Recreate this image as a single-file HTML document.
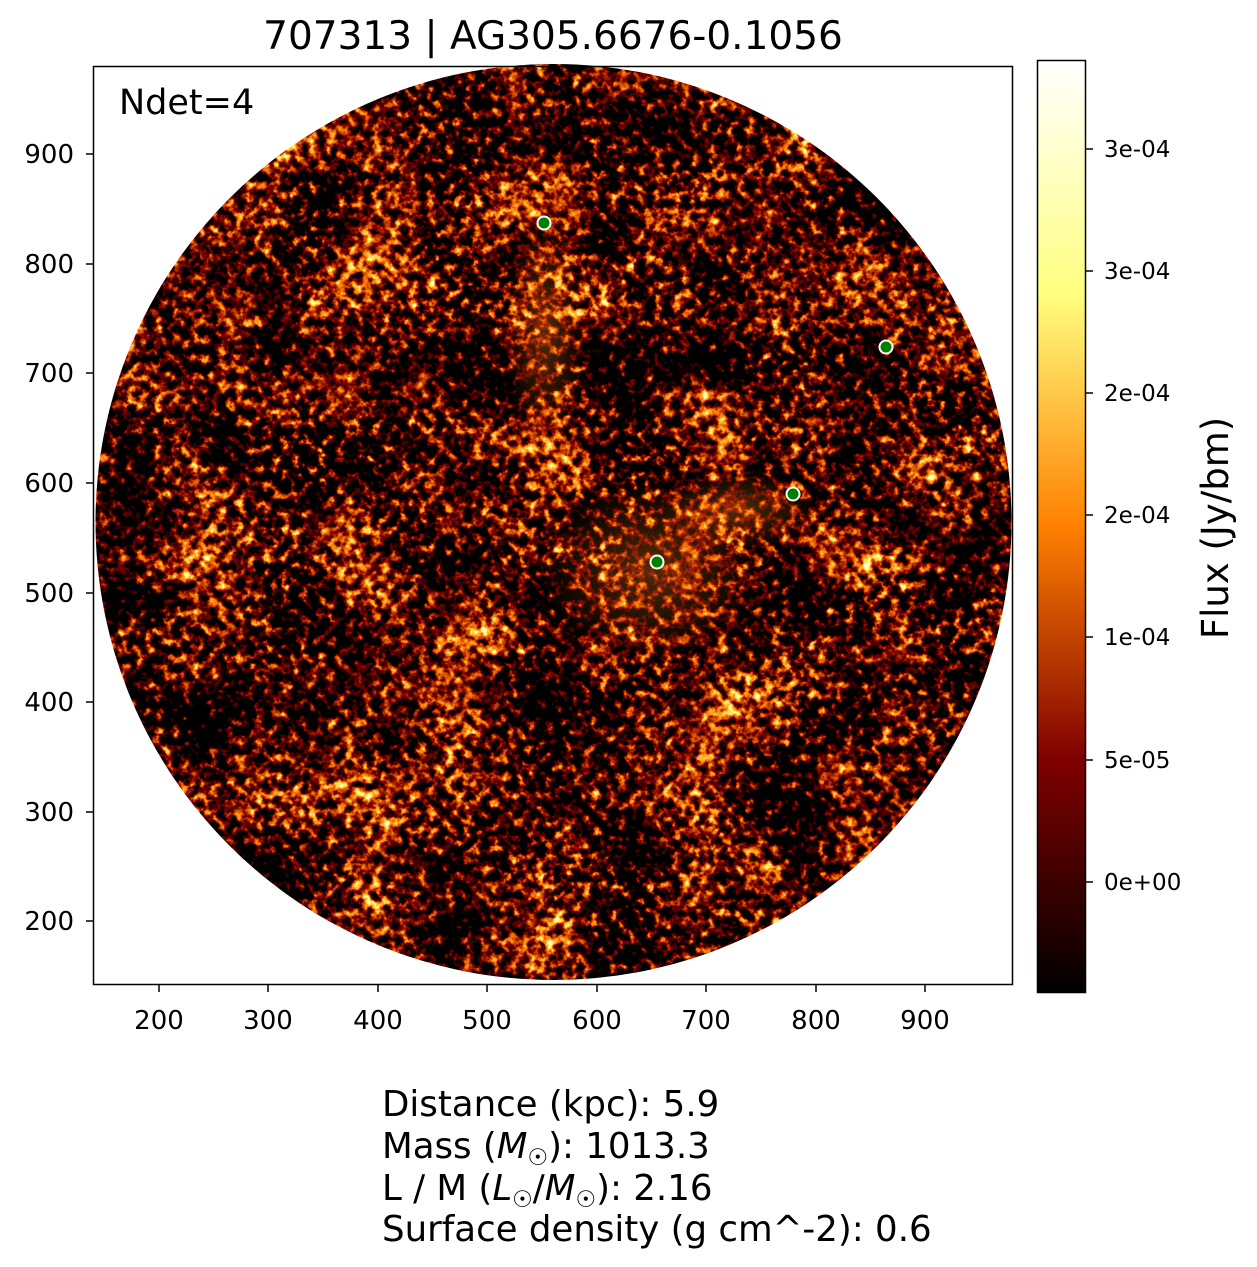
<!DOCTYPE html>
<html><head><meta charset="utf-8"><style>
html,body{margin:0;padding:0;background:#fff;}
svg{display:block;font-family:"DejaVu Sans","Liberation Sans",sans-serif;}
</style></head><body>
<svg width="1257" height="1267" viewBox="0 0 1257 1267" xmlns="http://www.w3.org/2000/svg">
<defs>
<filter id="noise" x="0" y="0" width="100%" height="100%" color-interpolation-filters="sRGB">
<feTurbulence type="fractalNoise" baseFrequency="0.11" numOctaves="3" seed="7" result="t1"/>
<feTurbulence type="fractalNoise" baseFrequency="0.012" numOctaves="2" seed="3" result="t2"/>
<feComposite in="t1" in2="t2" operator="arithmetic" k1="0" k2="0.65" k3="0.35" k4="0" result="m"/>
<feColorMatrix in="m" type="matrix" values="2.5 0 0 0 -1.12  2.5 0 0 0 -1.12  2.5 0 0 0 -1.12  0 0 0 0 1" result="x"/>
<feComponentTransfer in="x">
<feFuncR type="linear" slope="2" intercept="0"/>
<feFuncG type="linear" slope="2" intercept="-0.5"/>
<feFuncB type="linear" slope="2" intercept="-1"/>
<feFuncA type="linear" slope="0" intercept="1"/>
</feComponentTransfer>
</filter>
<clipPath id="circ"><circle cx="553.5" cy="522" r="458"/></clipPath>
<linearGradient id="cb" x1="0" y1="1" x2="0" y2="0">
<stop offset="0" stop-color="#000"/>
<stop offset="0.25" stop-color="#800000"/>
<stop offset="0.5" stop-color="#ff8000"/>
<stop offset="0.75" stop-color="#ffff80"/>
<stop offset="1" stop-color="#fff"/>
</linearGradient>
<radialGradient id="glow"><stop offset="0" stop-color="#ff9020" stop-opacity="0.3"/><stop offset="1" stop-color="#ff8000" stop-opacity="0"/></radialGradient>
</defs>
<text x="553" y="49" font-size="39" text-anchor="middle">707313 | AG305.6676-0.1056</text>
<g clip-path="url(#circ)">
<rect x="90" y="60" width="930" height="930" filter="url(#noise)"/>
<ellipse cx="650" cy="570" rx="110" ry="90" fill="url(#glow)"/>
<ellipse cx="740" cy="510" rx="80" ry="40" fill="url(#glow)"/>
<ellipse cx="545" cy="330" rx="40" ry="120" fill="url(#glow)"/>
</g>
<rect x="93.5" y="66.5" width="919" height="918" fill="none" stroke="#000" stroke-width="1.5"/>
<text x="119" y="114" font-size="35">Ndet=4</text>
<g fill="#008000" stroke="#fff" stroke-width="2">
<circle cx="544" cy="223" r="6.5"/><circle cx="886" cy="347" r="6.5"/><circle cx="793" cy="494" r="6.5"/><circle cx="657" cy="562" r="6.5"/>
</g>
<g stroke="#000" stroke-width="1.5">
<line x1="159" y1="985" x2="159" y2="992"/><line x1="268" y1="985" x2="268" y2="992"/><line x1="378" y1="985" x2="378" y2="992"/><line x1="487" y1="985" x2="487" y2="992"/><line x1="597" y1="985" x2="597" y2="992"/><line x1="706" y1="985" x2="706" y2="992"/><line x1="816" y1="985" x2="816" y2="992"/><line x1="925" y1="985" x2="925" y2="992"/>
<line x1="86" y1="154" x2="93" y2="154"/><line x1="86" y1="264" x2="93" y2="264"/><line x1="86" y1="373" x2="93" y2="373"/><line x1="86" y1="483" x2="93" y2="483"/><line x1="86" y1="593" x2="93" y2="593"/><line x1="86" y1="702" x2="93" y2="702"/><line x1="86" y1="812" x2="93" y2="812"/><line x1="86" y1="921" x2="93" y2="921"/>
</g>
<g font-size="26" text-anchor="middle">
<text x="159" y="1029">200</text><text x="268" y="1029">300</text><text x="378" y="1029">400</text><text x="487" y="1029">500</text><text x="597" y="1029">600</text><text x="706" y="1029">700</text><text x="816" y="1029">800</text><text x="925" y="1029">900</text>
</g>
<g font-size="26" text-anchor="end">
<text x="74" y="163">900</text><text x="74" y="273">800</text><text x="74" y="382">700</text><text x="74" y="492">600</text><text x="74" y="602">500</text><text x="74" y="711">400</text><text x="74" y="821">300</text><text x="74" y="930">200</text>
</g>
<rect x="1037.5" y="60.5" width="48" height="932" fill="url(#cb)" stroke="#000" stroke-width="1.5"/>
<g stroke="#000" stroke-width="1.5">
<line x1="1086" y1="149" x2="1093" y2="149"/><line x1="1086" y1="271" x2="1093" y2="271"/><line x1="1086" y1="393" x2="1093" y2="393"/><line x1="1086" y1="515" x2="1093" y2="515"/><line x1="1086" y1="637" x2="1093" y2="637"/><line x1="1086" y1="760" x2="1093" y2="760"/><line x1="1086" y1="882" x2="1093" y2="882"/>
</g>
<g font-size="23">
<text x="1104" y="157">3e-04</text><text x="1104" y="279">3e-04</text><text x="1104" y="401">2e-04</text><text x="1104" y="523">2e-04</text><text x="1104" y="645">1e-04</text><text x="1104" y="768">5e-05</text><text x="1104" y="890">0e+00</text>
</g>
<text transform="translate(1228,528) rotate(-90)" font-size="37" text-anchor="middle">Flux (Jy/bm)</text>
<g font-size="35.6">
<text x="382" y="1116">Distance (kpc): 5.9</text>
<text x="382" y="1158">Mass (<tspan font-style="italic">M</tspan><tspan font-size="23" dy="7">☉</tspan><tspan dy="-7">): 1013.3</tspan></text>
<text x="382" y="1200">L / M (<tspan font-style="italic">L</tspan><tspan font-size="23" dy="7">☉</tspan><tspan dy="-7">/</tspan><tspan font-style="italic">M</tspan><tspan font-size="23" dy="7">☉</tspan><tspan dy="-7">): 2.16</tspan></text>
<text x="382" y="1241">Surface density (g cm^-2): 0.6</text>
</g>
</svg>
</body></html>
